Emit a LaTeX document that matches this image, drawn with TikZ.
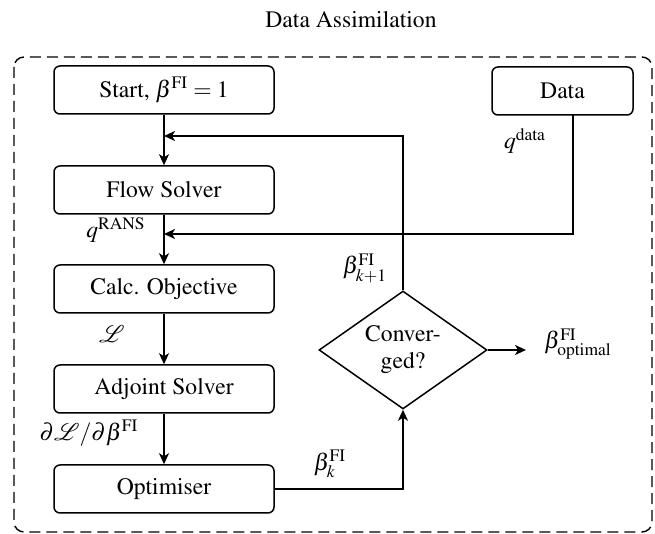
\documentclass[tikz,border=0pt]{standalone}
\usepackage[T1]{fontenc}
\usepackage{mathptmx}
\usepackage{mathrsfs}
\usetikzlibrary{shapes.geometric,arrows.meta}
\begin{document}
\begin{tikzpicture}[x=0.5pt,y=-0.5pt,
  font=\fontsize{11.8}{13.5}\selectfont,
  box/.style={draw,line width=0.75pt,rounded corners=3pt,minimum width=110pt,minimum height=24pt,inner sep=0pt},
  dbox/.style={box,minimum width=70.5pt},
  decide/.style={draw,line width=0.75pt,shape=diamond,aspect=1.42,inner sep=0pt,minimum width=84pt,minimum height=59pt,align=center},
  conn/.style={line width=0.85pt},
  arr/.style={conn,-{Stealth[length=5.5pt,width=5pt,inset=1.5pt]}},
  lab/.style={inner sep=0pt}]
\useasboundingbox (0,0) rectangle (655,534);
\node[lab] (title) at (351,20) {Data Assimilation};
\draw[line width=0.7pt,dash pattern=on 5.5pt off 3pt,rounded corners=5pt] (14,57) rectangle (652,532);
\node[box] (start) at (164,90) {Start, $\beta^{\mathrm{FI}}=1$};
\node[box] (flow) at (164,190) {Flow Solver};
\node[box] (calc) at (164,289) {Calc. Objective};
\node[box] (adj) at (164,389) {Adjoint Solver};
\node[box] (opt) at (164,489) {Optimiser};
\node[dbox] (data) at (562.5,91) {Data};
\node[decide] (conv) at (403,350) {Conver-\\ged?};
\coordinate (fb) at (164,136);
\coordinate (dd) at (164,234);
\coordinate (ds) at (573,115);
\coordinate (out) at (526,350);
\draw[arr] (start) -- (flow);
\draw[arr] (flow) -- (calc);
\draw[arr] (calc) -- (adj);
\draw[arr] (adj) -- (opt);
\draw[arr] (conv.north) |- (fb);
\draw[arr] (ds) |- (dd);
\draw[arr] (opt.east) -| (conv.south);
\draw[arr] (conv.east) -- (out);
\node[lab] (qrans) at (116,230) {$q^{\mathrm{RANS}}$};
\node[lab] (qdata) at (525,141) {$q^{\mathrm{data}}$};
\node[lab] (bk1) at (365,268) {$\beta^{\mathrm{FI}}_{k+1}$};
\node[lab] (obj) at (112,334) {$\mathscr{L}$};
\node[lab] (grad) at (89,433) {$\partial\mathscr{L}/\partial\beta^{\mathrm{FI}}$};
\node[lab] (bk) at (330,464) {$\beta^{\mathrm{FI}}_{k}$};
\node[lab,anchor=west] (bopt) at (544,344) {$\beta^{\mathrm{FI}}_{\mathrm{optimal}}$};
\end{tikzpicture}
\end{document}
